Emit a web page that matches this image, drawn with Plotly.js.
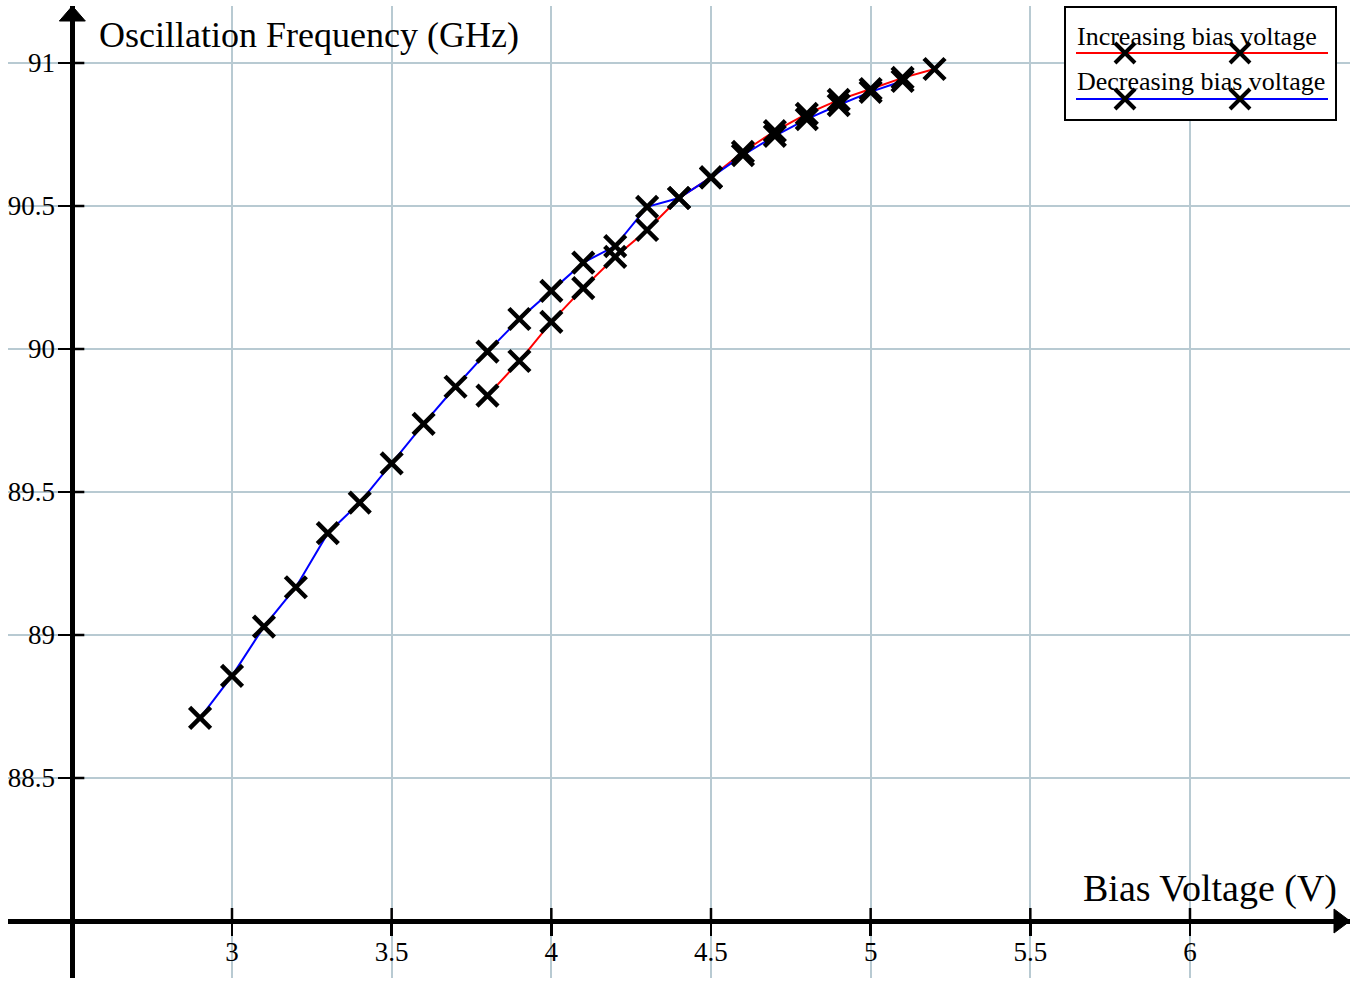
<!DOCTYPE html>
<html>
<head>
<meta charset="utf-8">
<script src="https://cdn.plot.ly/plotly-3.0.1.min.js"></script>
<style>html,body{margin:0;padding:0;background:#fff;}#chart{width:1352px;height:981px;}</style>
</head>
<body>
<div id="chart"></div>
<script>
// ---- data ----
const decVoltage = [2.9, 3.0, 3.1, 3.2, 3.3, 3.4, 3.5, 3.6, 3.7, 3.8, 3.9, 4.0, 4.1, 4.2, 4.3, 4.4, 4.5, 4.6, 4.7, 4.8, 4.9, 5.0, 5.1];
const decFreq    = [88.71, 88.857, 89.029, 89.167, 89.356, 89.463, 89.60, 89.738, 89.868, 89.991, 90.105, 90.203, 90.302, 90.36, 90.497, 90.528, 90.60, 90.678, 90.745, 90.804, 90.853, 90.899, 90.937];
const incVoltage = [3.8, 3.9, 4.0, 4.1, 4.2, 4.3, 4.4, 4.5, 4.6, 4.7, 4.8, 4.9, 5.0, 5.1, 5.2];
const incFreq    = [89.837, 89.958, 90.095, 90.213, 90.322, 90.416, 90.528, 90.60, 90.689, 90.762, 90.822, 90.871, 90.909, 90.948, 90.979];
const xTickVals  = [3, 3.5, 4, 4.5, 5, 5.5, 6];
const xTickText  = ["3", "3.5", "4", "4.5", "5", "5.5", "6"];
const yTickVals  = [88.5, 89, 89.5, 90, 90.5, 91];
const yTickText  = ["88.5", "89", "89.5", "90", "90.5", "91"];
const seriesNames = ["Increasing bias voltage", "Decreasing bias voltage"];
const seriesColors = ["#ff0000", "#0000ff"];

// ---- layout geometry ----
const W = 1352, H = 981;
const M = {l: 8, r: 2, t: 6, b: 3};
const PW = W - M.l - M.r, PH = H - M.t - M.b;
const xRange = [2.29853, 6.50111];
const yRange = [87.8007, 91.1993];
const xCross = 2.5, yCross = 88;
const font = "Liberation Serif, Times New Roman, serif";
const gridColor = "#b8cad2";
const px2paperX = p => (p - M.l) / PW;
const px2paperY = p => (H - M.b - p) / PH;

const markerStyle = {symbol: "x-thin", size: 21, line: {color: "#000", width: 4.5}};

const traces = [
  {x: incVoltage, y: incFreq, mode: "lines", line: {color: seriesColors[0], width: 2}, hoverinfo: "skip", showlegend: false},
  {x: decVoltage, y: decFreq, mode: "lines", line: {color: seriesColors[1], width: 2}, hoverinfo: "skip", showlegend: false},
  {x: incVoltage, y: incFreq, mode: "markers", marker: markerStyle, name: seriesNames[0], showlegend: false},
  {x: decVoltage, y: decFreq, mode: "markers", marker: markerStyle, name: seriesNames[1], showlegend: false}
];

const shapes = [];
// inner halves of the crossing tick marks
xTickVals.forEach(v => shapes.push({type: "line", xref: "x", yref: "y", x0: v, x1: v,
  ysizemode: "pixel", yanchor: yCross, y0: 0, y1: 13, line: {color: "#000", width: 2.5}, layer: "above"}));
yTickVals.forEach(v => shapes.push({type: "line", xref: "x", yref: "y", y0: v, y1: v,
  xsizemode: "pixel", xanchor: xCross, x0: 0, x1: 12, line: {color: "#000", width: 2.5}, layer: "above"}));
// arrow heads
shapes.push({type: "path", xref: "x", yref: "y", xsizemode: "pixel", ysizemode: "pixel",
  xanchor: xRange[1], yanchor: yCross, path: "M 0,0 L -16,12 L -16,-12 Z",
  fillcolor: "#000", line: {color: "#000", width: 1}, layer: "above"});
shapes.push({type: "path", xref: "x", yref: "y", xsizemode: "pixel", ysizemode: "pixel",
  xanchor: xCross, yanchor: yRange[1], path: "M 0,0 L 13,-15 L -13,-15 Z",
  fillcolor: "#000", line: {color: "#000", width: 1}, layer: "above"});

// custom legend
shapes.push({type: "rect", xref: "paper", yref: "paper",
  x0: px2paperX(1065), x1: px2paperX(1336), y0: px2paperY(120), y1: px2paperY(7),
  fillcolor: "#fff", line: {color: "#000", width: 2}, layer: "above"});
const legendRows = [53, 99];
const annotations = [];
legendRows.forEach((ry, i) => {
  shapes.push({type: "line", xref: "paper", yref: "paper", x0: px2paperX(1076), x1: px2paperX(1328),
    y0: px2paperY(ry), y1: px2paperY(ry), line: {color: seriesColors[i], width: 2}, layer: "above"});
  [1125, 1240].forEach(mx => shapes.push({type: "path", xref: "paper", yref: "paper",
    xsizemode: "pixel", ysizemode: "pixel", xanchor: px2paperX(mx), yanchor: px2paperY(ry),
    path: "M -10,-10 L 10,10 M -10,10 L 10,-10", line: {color: "#000", width: 4}, layer: "above"}));
  annotations.push({xref: "paper", yref: "paper", x: px2paperX(1075), y: px2paperY(ry - 17),
    xanchor: "left", yanchor: "middle", showarrow: false, text: seriesNames[i],
    font: {family: font, size: 26, color: "#000"}});
});

// axis titles
annotations.push({xref: "paper", yref: "paper", x: px2paperX(97), y: px2paperY(35), xanchor: "left", yanchor: "middle",
  showarrow: false, text: "Oscillation Frequency (GHz)", font: {family: font, size: 36, color: "#000"}});
annotations.push({xref: "paper", yref: "paper", x: px2paperX(1339), y: px2paperY(888), xanchor: "right", yanchor: "middle",
  showarrow: false, text: "Bias Voltage (V)", font: {family: font, size: 38, color: "#000"}});

const layout = {
  width: W, height: H,
  margin: {l: M.l, r: M.r, t: M.t, b: M.b, pad: 0},
  paper_bgcolor: "#fff", plot_bgcolor: "#fff",
  showlegend: false,
  font: {family: font, color: "#000"},
  xaxis: {
    range: xRange, anchor: "free", position: (yCross - yRange[0]) / (yRange[1] - yRange[0]),
    tickmode: "array", tickvals: xTickVals, ticktext: xTickText,
    ticks: "outside", ticklen: 12, tickwidth: 2.5, tickcolor: "#000", ticklabelstandoff: -7,
    tickfont: {family: font, size: 27, color: "#000"},
    showgrid: true, gridcolor: gridColor, gridwidth: 2,
    showline: true, linecolor: "#000", linewidth: 4.5, zeroline: false, fixedrange: true
  },
  yaxis: {
    range: yRange, anchor: "free", position: (xCross - xRange[0]) / (xRange[1] - xRange[0]),
    tickmode: "array", tickvals: yTickVals, ticktext: yTickText,
    ticks: "outside", ticklen: 12, tickwidth: 2.5, tickcolor: "#000", ticklabelstandoff: -2,
    tickfont: {family: font, size: 27, color: "#000"},
    showgrid: true, gridcolor: gridColor, gridwidth: 2,
    showline: true, linecolor: "#000", linewidth: 4.5, zeroline: false, fixedrange: true
  },
  shapes: shapes,
  annotations: annotations
};

Plotly.newPlot("chart", traces, layout, {displayModeBar: false, staticPlot: true});
</script>
</body>
</html>
